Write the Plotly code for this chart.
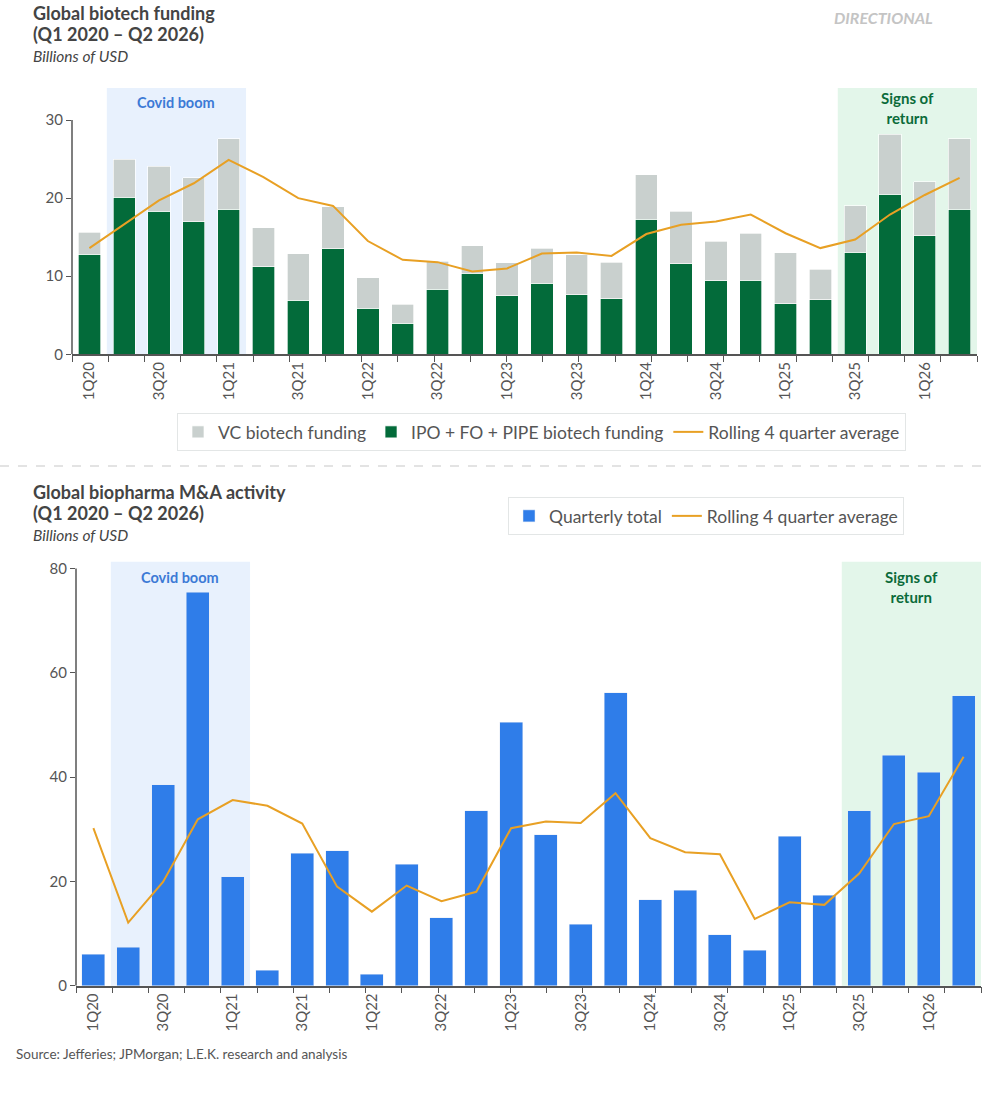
import plotly.graph_objects as go

quarters = ["1Q20","2Q20","3Q20","4Q20","1Q21","2Q21","3Q21","4Q21","1Q22","2Q22","3Q22","4Q22",
            "1Q23","2Q23","3Q23","4Q23","1Q24","2Q24","3Q24","4Q24","1Q25","2Q25","3Q25","4Q25",
            "1Q26","2Q26"]
tick_labels = quarters[::2]

# Top chart: Global biotech funding (billions USD)
ipo_fo_pipe = [12.8, 20.1, 18.3, 17.0, 18.6, 11.2, 6.9, 13.5, 5.9, 4.0, 8.3, 10.4, 7.5, 9.1,
               7.6, 7.1, 17.3, 11.6, 9.4, 9.5, 6.5, 7.0, 13.1, 20.5, 15.2, 18.6]
total_funding = [15.6, 25.0, 24.1, 22.6, 27.6, 16.2, 12.9, 18.9, 9.8, 6.4, 11.9, 13.9, 11.7, 13.6,
                 12.75, 11.8, 23.0, 18.35, 14.5, 15.5, 13.0, 10.9, 19.0, 28.2, 22.1, 27.6]
vc_funding = [round(t - g, 2) for t, g in zip(total_funding, ipo_fo_pipe)]
funding_rolling = [13.6, 16.7, 19.7, 21.9, 24.9, 22.7, 20.0, 19.0, 14.5, 12.1, 11.8, 10.6, 11.0, 12.9,
                   13.05, 12.6, 15.4, 16.6, 17.0, 17.9, 15.5, 13.6, 14.7, 17.9, 20.4, 22.6]

# Bottom chart: Global biopharma M&A activity (billions USD)
ma_total = [6.0, 7.4, 38.5, 75.4, 20.9, 3.0, 25.4, 25.9, 2.2, 23.3, 13.0, 33.5, 50.5, 28.9,
            11.8, 56.2, 16.5, 18.3, 9.8, 6.8, 28.7, 17.3, 33.5, 44.2, 40.9, 55.6]
ma_rolling = [30.2, 12.1, 19.9, 31.9, 35.6, 34.5, 31.1, 19.0, 14.2, 19.2, 16.2, 18.0, 30.2, 31.5,
              31.2, 36.9, 28.3, 25.6, 25.2, 12.8, 16.0, 15.5, 21.5, 31.0, 32.5, 43.9]

W, H = 990, 1093
def px(x): return x / W
def py(y): return 1 - y / H

GREEN = "#036b3a"
GRAY = "#c9d0ce"
ORANGE = "#e8a024"
BLUE = "#2f7de9"
AXIS = "#555555"
FONT = "Lato"

xi = list(range(len(quarters)))

fig = go.Figure()
fig.add_trace(go.Bar(x=xi, y=ipo_fo_pipe, name="IPO + FO + PIPE biotech funding",
                     marker=dict(color=GREEN, line=dict(color="rgba(255,255,255,0.85)", width=0.8)),
                     width=0.64, xaxis="x", yaxis="y", legend="legend", legendrank=2))
fig.add_trace(go.Bar(x=xi, y=vc_funding, name="VC biotech funding",
                     marker=dict(color=GRAY, line=dict(color="rgba(255,255,255,0.85)", width=0.8)),
                     width=0.64, xaxis="x", yaxis="y", legend="legend", legendrank=1))
fig.add_trace(go.Scatter(x=xi, y=funding_rolling, mode="lines", name="Rolling 4 quarter average",
                         line=dict(color=ORANGE, width=2), xaxis="x", yaxis="y",
                         legend="legend", legendrank=3))
fig.add_trace(go.Bar(x=xi, y=ma_total, name="Quarterly total", marker=dict(color=BLUE),
                     width=0.66, xaxis="x2", yaxis="y2", legend="legend2", legendrank=1))
fig.add_trace(go.Scatter(x=xi, y=ma_rolling, mode="lines", name="Rolling 4 quarter average",
                         line=dict(color=ORANGE, width=2), xaxis="x2", yaxis="y2",
                         legend="legend2", legendrank=2))

def xaxis_cfg(domain):
    return dict(domain=domain, range=[-0.5, 25.5001], showgrid=False, zeroline=False,
                automargin=False,
                showline=True, linecolor=AXIS, linewidth=1.5,
                tickmode="array", tickvals=xi[::2], ticktext=tick_labels, ticks="",
                tickangle=-90, tickfont=dict(family=FONT, size=15, color="#555"),
                minor=dict(ticks="outside", tickmode="linear", tick0=-0.5, dtick=26/25,
                           ticklen=6, tickwidth=1.3, tickcolor=AXIS, showgrid=False))

def yaxis_cfg(domain, rng, vals, anchor):
    return dict(domain=domain, range=rng, showgrid=False, zeroline=False, showline=False,
                automargin=False,
                tickmode="array", tickvals=vals, ticks="outside", ticklen=5, tickwidth=1.3,
                tickcolor=AXIS, tickfont=dict(family=FONT, size=15, color="#555"), anchor=anchor)

LEG_FONT = dict(family=FONT, size=17.5, color="#555")
fig.update_layout(
    width=W, height=H, margin=dict(l=0, r=0, t=0, b=0, autoexpand=False),
    paper_bgcolor="white", plot_bgcolor="rgba(0,0,0,0)",
    barmode="stack", showlegend=True,
    font=dict(family=FONT, color="#444"),
    xaxis=xaxis_cfg([px(72), px(977)]) | dict(anchor="y"),
    yaxis=yaxis_cfg([py(354.3), py(88)], [0, 34.1], [0, 10, 20, 30], "x"),
    xaxis2=xaxis_cfg([px(76), px(981)]) | dict(anchor="y2"),
    yaxis2=yaxis_cfg([py(985.7), py(561.7)], [0, 81.3], [0, 20, 40, 60, 80], "x2"),
    legend=dict(orientation="h", x=px(177), y=py(413), xanchor="left", yanchor="top",
                bordercolor="#e3e6e6", borderwidth=1, bgcolor="white",
                font=LEG_FONT, traceorder="normal", itemwidth=30),
    legend2=dict(orientation="h", x=px(508), y=py(497), xanchor="left", yanchor="top",
                 bordercolor="#e3e6e6", borderwidth=1, bgcolor="white",
                 font=LEG_FONT, traceorder="normal", itemwidth=30),
)

shapes = []
# shaded periods
for xa, ya in (("x", "y"), ("x2", "y2")):
    shapes.append(dict(type="rect", xref=xa, yref=f"{ya} domain", x0=0.5, x1=4.5, y0=0, y1=1,
                       fillcolor="#e8f1fd", line=dict(width=0), layer="below"))
    shapes.append(dict(type="rect", xref=xa, yref=f"{ya} domain", x0=21.5, x1=25.5, y0=0, y1=1,
                       fillcolor="#e3f6ea", line=dict(width=0), layer="below"))
# y axis lines ending at top tick
shapes.append(dict(type="line", xref="x domain", yref="y", x0=0, x1=0, y0=0, y1=30,
                   line=dict(color=AXIS, width=1.5)))
shapes.append(dict(type="line", xref="x2 domain", yref="y2", x0=0, x1=0, y0=0, y1=80,
                   line=dict(color=AXIS, width=1.5)))
# dashed separator
shapes.append(dict(type="line", xref="paper", yref="paper", x0=0, x1=1, y0=py(466), y1=py(466),
                   line=dict(color="#c8c8c8", width=1.2, dash="dash")))
fig.update_layout(shapes=shapes)

ann = []
def text(x, y, s, size, color, bold=False, italic=False, xanchor="left", xref="paper"):
    t = s
    if bold:
        t = f"<b>{t}</b>"
    if italic:
        t = f"<i>{t}</i>"
    ann.append(dict(x=x, y=y, xref=xref, yref="paper", text=t, showarrow=False,
                    xanchor=xanchor, yanchor="middle",
                    font=dict(family=FONT, size=size, color=color)))

text(px(31), py(13), "Global biotech funding", 18, "#444", bold=True)
text(px(31), py(34), "(Q1 2020 – Q2 2026)", 18, "#444", bold=True)
text(px(31), py(56), "Billions of USD", 15.5, "#444", italic=True)
text(px(883), py(17), "DIRECTIONAL", 16, "#c4c4c4", bold=True, italic=True, xanchor="center")

text(px(31), py(492), "Global biopharma M&A activity", 18, "#444", bold=True)
text(px(31), py(513), "(Q1 2020 – Q2 2026)", 18, "#444", bold=True)
text(px(31), py(535), "Billions of USD", 15.5, "#444", italic=True)

text(2.5, py(103), "Covid boom", 14.5, "#3c7ad6", bold=True, xanchor="center", xref="x")
text(23.5, py(108), "Signs of<br>return", 15, "#0b6b3a", bold=True, xanchor="center", xref="x")
text(2.5, py(577), "Covid boom", 14.5, "#3c7ad6", bold=True, xanchor="center", xref="x2")
text(23.5, py(587), "Signs of<br>return", 15, "#0b6b3a", bold=True, xanchor="center", xref="x2")

text(px(14), py(1054), "Source: Jefferies; JPMorgan; L.E.K. research and analysis", 13.5, "#555")
fig.update_layout(annotations=ann)

fig.write_html("out.html")
